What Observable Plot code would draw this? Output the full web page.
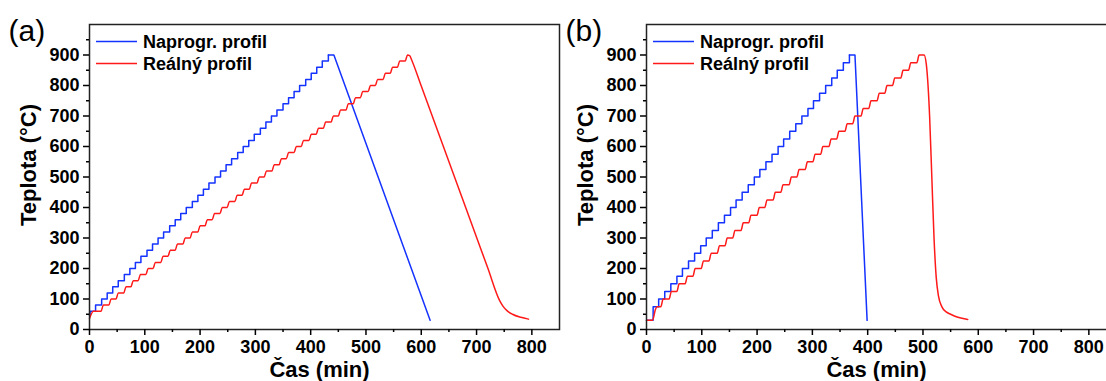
<!DOCTYPE html>
<html>
<head>
<meta charset="utf-8">
<script src="https://cdn.jsdelivr.net/npm/d3@7"></script>
<script src="https://cdn.jsdelivr.net/npm/@observablehq/plot@0.6"></script>
<style>
html, body { margin: 0; padding: 0; background: #fff; width: 1106px; height: 381px; overflow: hidden; }
#wrap { position: relative; width: 1106px; height: 381px; overflow: hidden; }
.panel { position: absolute; top: 0; }
</style>
</head>
<body>
<div id="wrap"></div>
<script>
// ---------- tick values ----------
const xMajorTicks = [0, 100, 200, 300, 400, 500, 600, 700, 800];
const xMinorTicks = [50, 150, 250, 350, 450, 550, 650, 750];
const yMajorTicks = [0, 100, 200, 300, 400, 500, 600, 700, 800, 900];
const yMinorTicks = [50, 150, 250, 350, 450, 550, 650, 750, 850, 950];

// ---------- labels ----------
const seriesNames = ["Naprogr. profil", "Reálný profil"];
const panelTags = ["(a)", "(b)"];
const xTitle = "Čas (min)";
const yTitle = "Teplota (°C)";

// ---------- panel (a): programmed profile (step points, then cooling) ----------
const aProgRiseTime = [0, 1, 11, 22, 32, 42, 52, 63, 73, 83, 93, 104, 114, 124, 134, 145, 155, 165, 175, 186, 196, 206, 216, 227, 237, 247, 257, 268, 278, 288, 298, 309, 319, 329, 339, 350, 360, 370, 380, 391, 401, 411, 421, 432];
const aProgRiseTemp = [45, 60, 80, 100, 120, 140, 160, 180, 200, 220, 240, 260, 280, 300, 320, 340, 360, 380, 400, 420, 440, 460, 480, 500, 520, 540, 560, 580, 600, 620, 640, 660, 680, 700, 720, 740, 760, 780, 800, 820, 840, 860, 880, 900];
const aProgTailTime = [432, 442, 616];
const aProgTailTemp = [900, 900, 30];

// ---------- panel (a): real profile ----------
const aRealTime = [0, 7, 21, 25, 35, 39, 48, 52, 62, 66, 75, 79, 88, 92, 102, 106, 115, 119, 129, 133, 142, 146, 155, 159, 169, 173, 182, 186, 196, 200, 209, 213, 222, 226, 236, 240, 249, 253, 263, 267, 276, 280, 289, 293, 303, 307, 316, 320, 330, 334, 343, 347, 356, 360, 370, 374, 383, 387, 397, 401, 410, 414, 423, 427, 437, 441, 450, 454, 464, 468, 477, 481, 490, 494, 504, 508, 517, 521, 531, 535, 544, 548, 557, 561, 571, 575, 579, 583, 600, 720, 742, 748, 755, 765, 780, 794];
const aRealTemp = [36, 60, 60, 80, 80, 100, 100, 120, 120, 140, 140, 160, 160, 180, 180, 200, 200, 220, 220, 240, 240, 260, 260, 280, 280, 300, 300, 320, 320, 340, 340, 360, 360, 380, 380, 400, 400, 420, 420, 440, 440, 460, 460, 480, 480, 500, 500, 520, 520, 540, 540, 560, 560, 580, 580, 600, 600, 620, 620, 640, 640, 660, 660, 680, 680, 700, 700, 720, 720, 740, 740, 760, 760, 780, 780, 800, 800, 820, 820, 840, 840, 860, 860, 880, 880, 900, 898, 882, 798, 203, 94, 76, 62, 50, 40, 34];

// ---------- panel (b): programmed profile ----------
const bProgRiseTime = [0, 12, 22, 33, 44, 55, 65, 76, 87, 98, 108, 119, 130, 141, 152, 162, 173, 184, 195, 205, 216, 227, 238, 248, 259, 270, 281, 292, 302, 313, 324, 335, 345, 356, 367];
const bProgRiseTemp = [30, 75, 100, 125, 150, 175, 200, 225, 250, 275, 300, 325, 350, 375, 400, 425, 450, 475, 500, 525, 550, 575, 600, 625, 650, 675, 700, 725, 750, 775, 800, 825, 850, 875, 900];
const bProgTailTime = [367, 377, 399];
const bProgTailTemp = [900, 900, 30];

// ---------- panel (b): real profile ----------
const bRealTime = [0, 11, 16, 19, 26, 30, 41, 45, 55, 59, 70, 74, 84, 88, 99, 103, 113, 117, 128, 132, 142, 146, 156, 160, 171, 175, 185, 189, 200, 204, 214, 218, 229, 233, 243, 247, 258, 262, 272, 276, 287, 291, 301, 305, 315, 319, 330, 334, 344, 348, 359, 363, 373, 377, 388, 392, 402, 406, 417, 421, 431, 435, 445, 449, 460, 464, 474, 478, 489, 493, 502, 506, 512, 516, 520, 524, 528, 534, 542, 550, 563, 581];
const bRealTemp = [30, 30, 65, 75, 75, 100, 100, 125, 125, 150, 150, 175, 175, 200, 200, 225, 225, 250, 250, 275, 275, 300, 300, 325, 325, 350, 350, 375, 375, 400, 400, 425, 425, 450, 450, 475, 475, 500, 500, 525, 525, 550, 550, 575, 575, 600, 600, 625, 625, 650, 650, 675, 675, 700, 700, 725, 725, 750, 750, 775, 775, 800, 800, 825, 825, 850, 850, 875, 875, 900, 900, 870, 700, 500, 300, 170, 110, 75, 58, 50, 40, 33];

const BLUE = "#1533ff";
const RED = "#ff1a1a";
const colors = [BLUE, RED];

const zip = (ts, vs) => ts.map((t, i) => ({t, v: vs[i]}));

function decorations(tag) {
  return (index, scales, values, dims) => {
    const g = d3.create("svg:g").attr("text-anchor", "start");
    const x0 = dims.marginLeft, y0 = dims.marginTop;
    seriesNames.forEach((name, i) => {
      const yb = y0 + 23.5 + i * 22;
      g.append("line")
        .attr("x1", x0 + 7).attr("x2", x0 + 48)
        .attr("y1", yb - 6).attr("y2", yb - 6)
        .attr("stroke", colors[i]).attr("stroke-width", 1.5);
      g.append("text")
        .attr("x", x0 + 54).attr("y", yb)
        .attr("text-anchor", "start")
        .attr("font-size", 18).attr("font-weight", "bold").attr("fill", "#000")
        .text(name);
    });
    g.append("text")
      .attr("x", 8.5).attr("y", 41)
      .attr("text-anchor", "start")
      .attr("font-size", 30).attr("font-weight", "normal").attr("fill", "#000")
      .text(tag);
    return g.node();
  };
}

function panel(progRise, progTail, real, tag) {
  return Plot.plot({
    width: 575, height: 381,
    marginLeft: 89, marginRight: 16, marginTop: 24, marginBottom: 52,
    x: {domain: [0, 850], label: null},
    y: {domain: [0, 1000], label: null},
    style: {
      fontFamily: "Arial, 'Liberation Sans', sans-serif",
      fontSize: "18px", fontWeight: "bold", color: "#000",
      background: "transparent", overflow: "visible"
    },
    marks: [
      Plot.line(progRise, {x: "t", y: "v", stroke: BLUE, strokeWidth: 1.5, curve: "step-after"}),
      Plot.line(progTail, {x: "t", y: "v", stroke: BLUE, strokeWidth: 1.5}),
      Plot.line(real, {x: "t", y: "v", stroke: RED, strokeWidth: 1.5, curve: "monotone-x"}),
      Plot.frame({stroke: "#222", strokeWidth: 1.5}),
      Plot.axisX({ticks: xMinorTicks, tickSize: 3, tickFormat: () => "", label: null, strokeWidth: 1.5}),
      Plot.axisX({ticks: xMajorTicks, tickSize: 6, tickPadding: 5, label: null, strokeWidth: 1.5}),
      Plot.axisY({ticks: yMinorTicks, tickSize: 3, tickFormat: () => "", label: null, strokeWidth: 1.5}),
      Plot.axisY({ticks: yMajorTicks, tickSize: 6, tickPadding: 4, label: null, strokeWidth: 1.5}),
      Plot.text([yTitle], {text: d => d, frameAnchor: "left", textAnchor: "middle", lineAnchor: "middle", rotate: -90, dx: -61, dy: -12, fontSize: 22, fontWeight: "bold"}),
      Plot.text([xTitle], {text: d => d, frameAnchor: "bottom", textAnchor: "middle", lineAnchor: "middle", dx: -5, dy: 40, fontSize: 22, fontWeight: "bold"}),
      decorations(tag)
    ]
  });
}

const wrap = document.getElementById("wrap");
const pa = panel(zip(aProgRiseTime, aProgRiseTemp), zip(aProgTailTime, aProgTailTemp), zip(aRealTime, aRealTemp), panelTags[0]);
pa.classList.add("panel"); pa.style.left = "0px";
const pb = panel(zip(bProgRiseTime, bProgRiseTemp), zip(bProgTailTime, bProgTailTemp), zip(bRealTime, bRealTemp), panelTags[1]);
pb.classList.add("panel"); pb.style.left = "557px";
wrap.appendChild(pa);
wrap.appendChild(pb);
</script>
</body>
</html>
